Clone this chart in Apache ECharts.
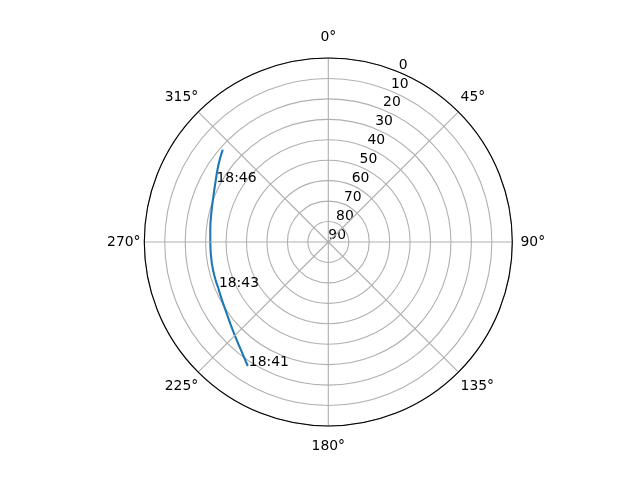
<!DOCTYPE html>
<html>
<head>
<meta charset="utf-8">
<script src="https://cdn.jsdelivr.net/npm/echarts@6/dist/echarts.min.js"></script>
<style>
html,body{margin:0;padding:0;background:#fff;}
#chart{width:640px;height:480px;}
</style>
</head>
<body>
<div id="chart"></div>
<script>
// Satellite track: azimuth (deg, clockwise from north) and elevation (deg)
const azimuth   = [213.0, 220.2, 227.3, 234.8, 242.9, 247.8, 251.2, 259.5, 269.2, 275.7, 283.6, 291.4, 298.0, 305.6, 311.2];
const elevation = [17.7, 22.8, 26.4, 29.2, 31.0, 31.7, 31.8, 32.1, 32.3, 32.0, 31.1, 29.6, 27.5, 24.1, 21.4];

// Time annotations
const labelTimes = ['18:41', '18:43', '18:46'];
const labelAz    = [213.0, 247.8, 298.0];
const labelEl    = [17.7, 31.7, 27.5];

// Axis ticks
const angleTicks  = [0, 45, 90, 135, 180, 225, 270, 315];
const radiusTicks = [0, 10, 20, 30, 40, 50, 60, 70, 80, 90];

const FONT = 'DejaVu Sans';
const FS = 13.9;

const track = azimuth.map((a, i) => [elevation[i], a]);
const marks = labelTimes.map((t, i) => ({ value: [labelEl[i], labelAz[i]], name: t }));

// per-direction padding so angle labels sit centred on a ring just outside the plot
const angleRich = {
  a0:   { padding: [0, 0, 13.5, 0] },
  a45:  { padding: [0, 0, 7.5, 2.2] },
  a90:  { padding: [0, 0, 0, 8.2] },
  a135: { padding: [7.5, 0, 0, 2.2] },
  a180: { padding: [13.5, 0, 0, 0] },
  a225: { padding: [7.5, 0, 0, 0] },
  a270: { padding: [0, 3.8, 0, 0] },
  a315: { padding: [0, 0, 7.5, 0] }
};
Object.keys(angleRich).forEach(k => {
  angleRich[k].fontFamily = FONT;
  angleRich[k].fontSize = FS;
  angleRich[k].color = '#000';
});

const chart = echarts.init(document.getElementById('chart'), null, { renderer: 'canvas' });
chart.setOption({
  animation: false,
  backgroundColor: '#ffffff',
  textStyle: { fontFamily: FONT },
  polar: [
    { center: [328.3, 242], radius: [0, 184] },
    { center: [328.3, 242], radius: [0, 184] }
  ],
  angleAxis: [
    {
      polarIndex: 0,
      type: 'value',
      min: 0, max: 360,
      interval: angleTicks[1] - angleTicks[0],
      startAngle: 90,
      clockwise: true,
      z: 5,
      axisLine: { show: true, lineStyle: { color: '#000', width: 1.1 } },
      axisTick: { show: false },
      axisLabel: {
        show: true,
        margin: 0,
        color: '#000',
        fontFamily: FONT,
        fontSize: FS,
        rich: angleRich,
        formatter: v => angleTicks.indexOf(v) >= 0 ? '{a' + v + '|' + v + '°}' : ''
      },
      splitLine: { show: true, lineStyle: { color: '#b0b0b0', width: 1.1 } }
    },
    {
      polarIndex: 1,
      type: 'value',
      min: 0, max: 360,
      startAngle: 67.5,
      clockwise: true,
      show: false
    }
  ],
  radiusAxis: [
    {
      polarIndex: 0,
      type: 'value',
      min: 0, max: 90, interval: 10,
      inverse: true,
      z: 1,
      axisLine: { show: false },
      axisTick: { show: false },
      axisLabel: { show: false },
      splitLine: { show: true, lineStyle: { color: '#b0b0b0', width: 1.1 } }
    },
    {
      polarIndex: 1,
      type: 'value',
      min: 0, max: 90, interval: 10,
      inverse: true,
      axisLine: { show: false },
      axisTick: { show: false },
      splitLine: { show: false },
      axisLabel: {
        show: true,
        margin: 0,
        align: 'left',
        verticalAlign: 'bottom',
        color: '#000',
        fontFamily: FONT,
        fontSize: FS,
        showMinLabel: true,
        showMaxLabel: true,
        hideOverlap: false,
        formatter: v => radiusTicks.indexOf(v) >= 0 ? String(v) : ''
      }
    }
  ],
  series: [
    {
      type: 'line',
      coordinateSystem: 'polar',
      polarIndex: 0,
      data: track,
      smooth: true,
      symbol: 'none',
      lineStyle: { color: '#1f77b4', width: 2.1 },
      z: 3
    },
    {
      type: 'scatter',
      coordinateSystem: 'polar',
      polarIndex: 0,
      data: marks,
      symbolSize: 0,
      z: 4,
      itemStyle: { opacity: 1 },
      label: {
        show: true,
        position: [0, 0],
        offset: [1, 3],
        align: 'left',
        verticalAlign: 'bottom',
        color: '#000',
        opacity: 1,
        fontFamily: FONT,
        fontSize: FS,
        formatter: p => p.name
      }
    }
  ]
});
</script>
</body>
</html>
